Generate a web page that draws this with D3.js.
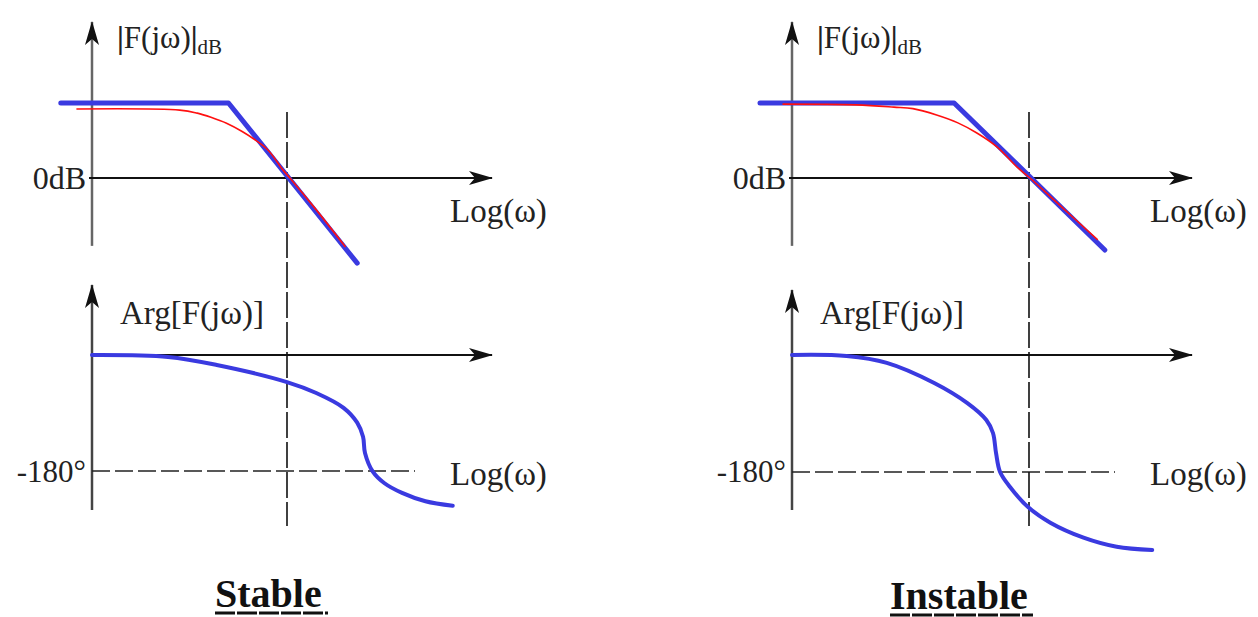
<!DOCTYPE html>
<html>
<head>
<meta charset="utf-8">
<script src="https://cdn.jsdelivr.net/npm/d3@7"></script>
<style>
  body { margin: 0; background: #fff; }
  text { font-family: "Liberation Serif", "DejaVu Serif", serif; fill: #222; }
</style>
</head>
<body>
<div id="bode_container"></div>
<script>
// x values: log(w), normalised so the 0dB crossover sits at 1
// magnitude in dB, phase in degrees
const stableMagAsym = [[-0.16, 20], [0.70, 20], [1.36, -22.7]];
const stableMagReal = [[-0.08, 18.4], [0.45, 18.1], [0.54, 17.3], [0.61, 16.2], [0.69, 14.6],
    [0.77, 12.4], [0.83, 10.4], [0.90, 7.6], [0.98, 2.1], [1.015, 0], [1.15, -8.5], [1.30, -18.4]];
const stablePhase = [[0, 0], [0.39, -3], [0.64, -15.5], [1.0, -42], [1.15, -59], [1.29, -82],
    [1.36, -105], [1.39, -127], [1.40, -152], [1.44, -181], [1.50, -199], [1.59, -214],
    [1.71, -227], [1.85, -234]];

const instableMagAsym = [[-0.135, 20], [0.684, 20], [1.32, -19.2]];
const instableMagReal = [[-0.04, 19.7], [0.27, 19.5], [0.43, 18.9], [0.51, 18.5], [0.61, 16.8],
    [0.70, 14.7], [0.78, 12.0], [0.865, 8.3], [0.95, 2.9], [1.004, 0], [1.12, -6.7], [1.29, -16.5]];
const instablePhase = [[0, 0], [0.23, -1.5], [0.40, -12], [0.60, -43], [0.74, -74], [0.82, -100],
    [0.848, -120], [0.861, -151], [0.878, -180], [0.92, -203], [0.996, -234], [1.09, -258],
    [1.23, -281], [1.37, -295], [1.52, -300]];

const panelTitles = ["Stable", "Instable"];
const magAxisLabel = "F(jω)";
const phaseAxisLabel = "Arg[F(jω)]";
const zeroDbLabel = "0dB";
const minus180Label = "-180°";
const freqLabel = "Log(ω)";

const svg_width = 1258, svg_height = 617;

const svg = d3.select("#bode_container")
    .append("svg")
    .attr("width", svg_width)
    .attr("height", svg_height);

// concave arrow head
svg.append("defs").append("marker")
    .attr("id", "arrow")
    .attr("viewBox", "0 0 24 16")
    .attr("refX", 23)
    .attr("refY", 8)
    .attr("markerWidth", 24)
    .attr("markerHeight", 16)
    .attr("markerUnits", "userSpaceOnUse")
    .attr("orient", "auto")
    .append("path")
    .attr("d", "M0,1 L24,8 L0,15 L6,8 Z")
    .attr("fill", "#111");

const panels = [
    { title: panelTitles[0], asym: stableMagAsym, real: stableMagReal, phase: stablePhase,
      x0: 92, x1: 287, xEnd: 492, dashEnd: 415, p180: 471, phaseTop: 285,
      titleX: 215, titleY: 607, titleW: 113, logX: 450, labelX: 117, argX: 120 },
    { title: panelTitles[1], asym: instableMagAsym, real: instableMagReal, phase: instablePhase,
      x0: 792, x1: 1029, xEnd: 1192, dashEnd: 1115, p180: 472, phaseTop: 290,
      titleX: 890, titleY: 609, titleW: 143, logX: 1150, labelX: 817, argX: 820 }
];

panels.forEach(function (p) {
    const g = svg.append("g");

    const x = d3.scaleLinear().domain([0, 1]).range([p.x0, p.x1]);
    const yMag = d3.scaleLinear().domain([0, 20]).range([178, 103]);
    const yPh = d3.scaleLinear().domain([0, -180]).range([355, p.p180]);

    const magLine = d3.line().x(d => x(d[0])).y(d => yMag(d[1]));
    const realLine = d3.line().x(d => x(d[0])).y(d => yMag(d[1])).curve(d3.curveCatmullRom.alpha(0.5));
    const phLine = d3.line().x(d => x(d[0])).y(d => yPh(d[1])).curve(d3.curveCatmullRom.alpha(0.5));

    // magnitude axes
    g.append("line")
        .attr("x1", x(0)).attr("x2", x(0))
        .attr("y1", yMag(-18.1)).attr("y2", yMag(41.6))
        .attr("stroke", "#666").attr("stroke-width", 2.5)
        .attr("marker-end", "url(#arrow)");
    g.append("line")
        .attr("x1", x(0) - 3).attr("x2", p.xEnd)
        .attr("y1", yMag(0)).attr("y2", yMag(0))
        .attr("stroke", "#111").attr("stroke-width", 1.8)
        .attr("marker-end", "url(#arrow)");

    // phase axes
    g.append("line")
        .attr("x1", x(0)).attr("x2", x(0))
        .attr("y1", 510).attr("y2", p.phaseTop)
        .attr("stroke", "#444").attr("stroke-width", 2.5)
        .attr("marker-end", "url(#arrow)");
    g.append("line")
        .attr("x1", x(0)).attr("x2", p.xEnd)
        .attr("y1", yPh(0)).attr("y2", yPh(0))
        .attr("stroke", "#111").attr("stroke-width", 1.8)
        .attr("marker-end", "url(#arrow)");
    g.append("line")
        .attr("x1", x(0)).attr("x2", p.dashEnd)
        .attr("y1", yPh(-180)).attr("y2", yPh(-180))
        .attr("stroke", "#222").attr("stroke-width", 1.6)
        .attr("stroke-dasharray", "18,5");

    // crossover frequency
    g.append("line")
        .attr("x1", x(1)).attr("x2", x(1))
        .attr("y1", 112).attr("y2", 526)
        .attr("stroke", "#111").attr("stroke-width", 1.6)
        .attr("stroke-dasharray", "26,4");

    // curves
    g.append("path")
        .attr("d", magLine(p.asym))
        .attr("fill", "none").attr("stroke", "#3a3ae0")
        .attr("stroke-width", 5).attr("stroke-linejoin", "round").attr("stroke-linecap", "round");
    g.append("path")
        .attr("d", realLine(p.real))
        .attr("fill", "none").attr("stroke", "#ff1010").attr("stroke-width", 1.6);
    g.append("path")
        .attr("d", phLine(p.phase))
        .attr("fill", "none").attr("stroke", "#3a3ae0")
        .attr("stroke-width", 4).attr("stroke-linecap", "round");

    // labels
    const mag = g.append("text")
        .attr("x", p.labelX).attr("y", 48)
        .style("font-size", "31px");
    mag.append("tspan").style("font-weight", "900").text("|");
    mag.append("tspan").text(magAxisLabel);
    mag.append("tspan").style("font-weight", "900").text("|");
    mag.append("tspan").attr("dy", 6).style("font-size", "21px").text("dB");

    g.append("text")
        .attr("x", x(0) - 6).attr("y", 189)
        .attr("text-anchor", "end")
        .style("font-size", "32px")
        .text(zeroDbLabel);

    g.append("text")
        .attr("x", p.logX).attr("y", 222)
        .style("font-size", "33px")
        .text(freqLabel);

    g.append("text")
        .attr("x", p.argX).attr("y", 324)
        .style("font-size", "33px")
        .text(phaseAxisLabel);

    g.append("text")
        .attr("x", x(0) - 6).attr("y", 482)
        .attr("text-anchor", "end")
        .style("font-size", "31px")
        .text(minus180Label);

    g.append("text")
        .attr("x", p.logX).attr("y", 485)
        .style("font-size", "33px")
        .text(freqLabel);

    // title, underlined
    g.append("text")
        .attr("x", p.titleX).attr("y", p.titleY)
        .style("font-size", "40px")
        .style("font-weight", "700")
        .style("fill", "#111")
        .text(p.title);
    g.append("line")
        .attr("x1", p.titleX).attr("x2", p.titleX + p.titleW)
        .attr("y1", p.titleY + 6).attr("y2", p.titleY + 6)
        .attr("stroke", "#111").attr("stroke-width", 3)
        .attr("stroke-dasharray", "20,2");
});
</script>
</body>
</html>
